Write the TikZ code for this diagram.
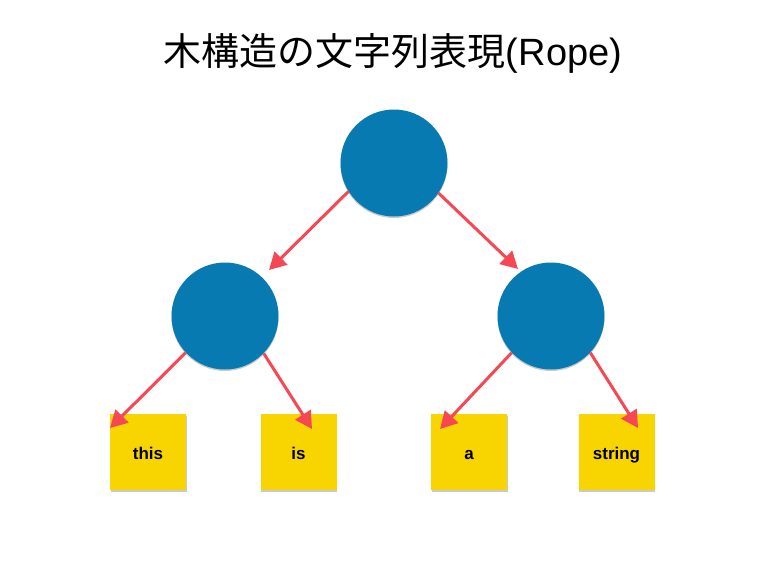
\documentclass[tikz,border=0pt]{standalone}
\usepackage{fontspec}
\setmainfont{Liberation Sans}
\newfontfamily\cjk{Noto Sans CJK JP}
\usetikzlibrary{arrows.meta,shadows}
\definecolor{nodeblue}{RGB}{8,122,178}
\definecolor{leafyellow}{RGB}{248,213,0}
\definecolor{arrowred}{RGB}{246,72,84}
\tikzset{
  inner/.style={circle, fill=nodeblue, minimum size=107pt, inner sep=0pt,
    drop shadow={shadow xshift=0pt, shadow yshift=-1.5pt, opacity=0.35, fill=black!60}},
  leaf/.style={rectangle, fill=leafyellow, minimum size=76pt, inner sep=0pt,
    font=\bfseries\fontsize{17}{19}\selectfont, text height=16pt, text depth=1.6pt,
    drop shadow={shadow xshift=0.8pt, shadow yshift=-1.5pt, opacity=0.35, fill=black!60}},
  link/.style={draw=arrowred, line width=3pt,
    -{Triangle[length=17pt,width=18pt]}}
}
\begin{document}
\begin{tikzpicture}[x=1pt,y=-1pt]
\useasboundingbox (0,0) rectangle (765,565);
\node (title) at (393,53) {\cjk\fontsize{38}{44}\selectfont 木構造の文字列表現{\fontspec{Liberation Sans}(Rope)}};
\node[inner] (root) at (394,163) {};
\node[inner] (l) at (225,316) {};
\node[inner] (r) at (551,316) {};
\node[leaf] (this) at (148,452) {this};
\node[leaf] (is) at (298.5,452) {is};
\node[leaf] (a) at (469,452) {a};
\node[leaf] (string) at (616.5,452) {string};
\coordinate (e1) at (269,270);
\coordinate (e2) at (518,269);
\coordinate (e3) at (110,428);
\coordinate (e4) at (312,429);
\coordinate (e5) at (440,429);
\coordinate (e6) at (638,428);
\draw[link] (root.-148) -- (e1);
\draw[link] (root.-34) -- (e2);
\draw[link] (l.-137) -- (e3);
\draw[link] (l.-44) -- (e4);
\draw[link] (r.-137) -- (e5);
\draw[link] (r.-43) -- (e6);
\end{tikzpicture}
\end{document}
